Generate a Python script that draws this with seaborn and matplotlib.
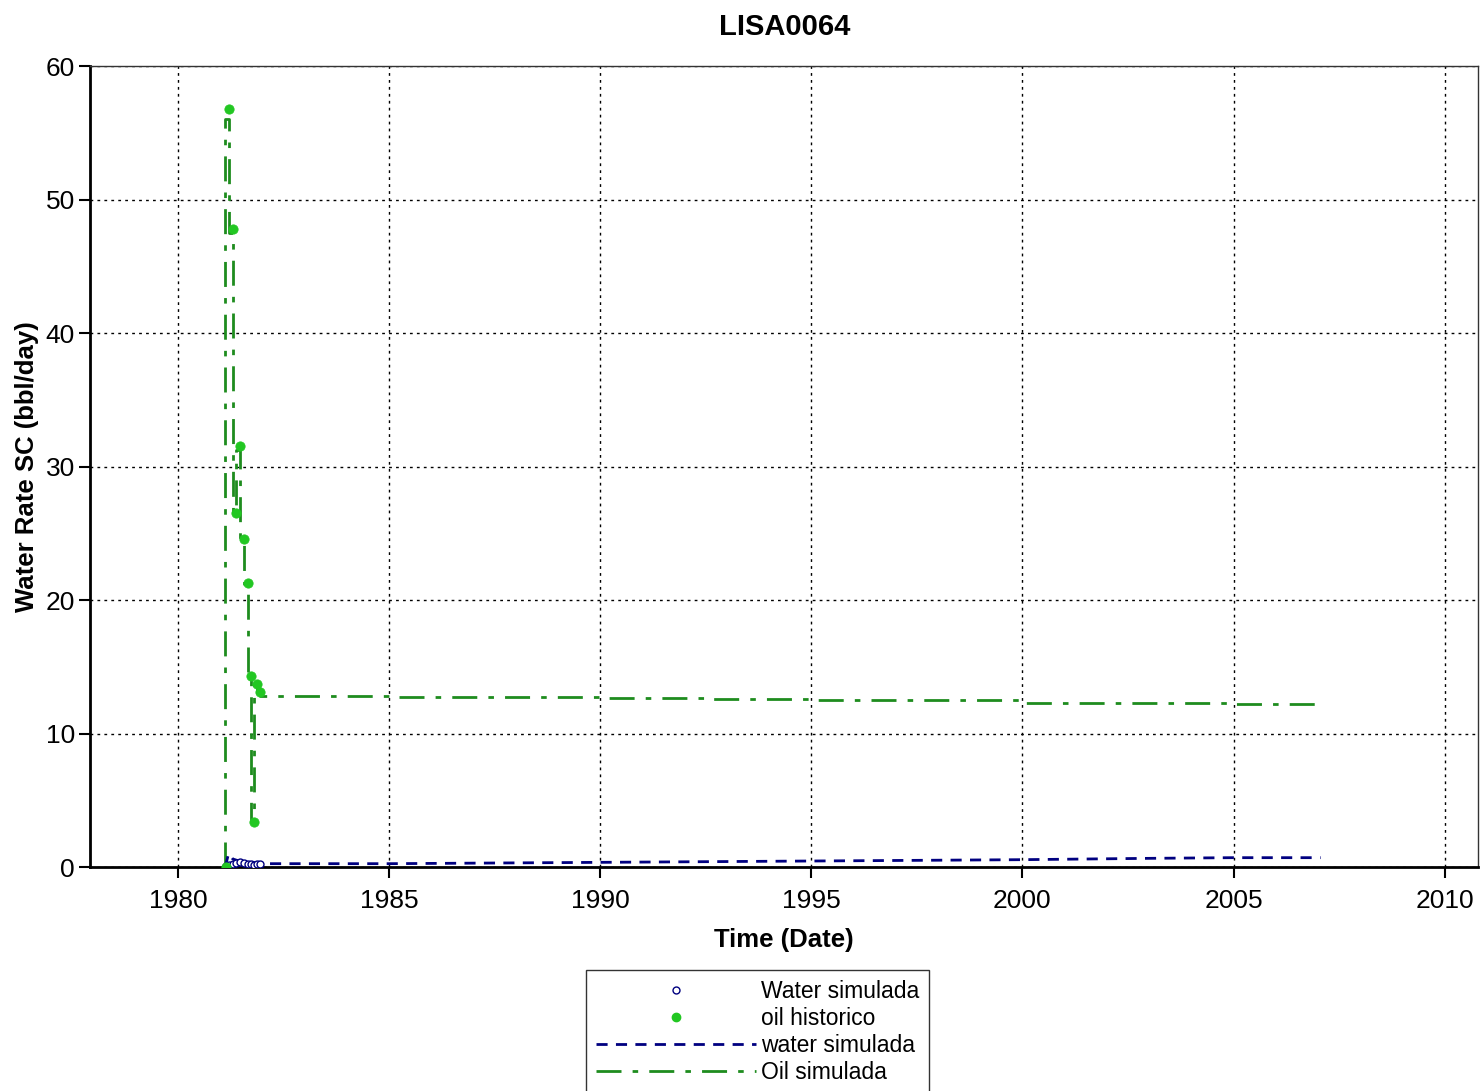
import numpy as np
import pandas as pd
import seaborn as sns
import matplotlib.pyplot as plt
from matplotlib.lines import Line2D

# oil historico (puntos)
oil_hist_t = [1981.14, 1981.21, 1981.30, 1981.37, 1981.47, 1981.56, 1981.66,
              1981.73, 1981.80, 1981.87, 1981.94]
oil_hist_q = [0.0, 56.8, 47.8, 26.5, 31.5, 24.6, 21.3, 14.3, 3.4, 13.7, 13.1]

# Oil simulada
oil_sim_t = [1981.12, 1981.14, 1981.21, 1981.30, 1981.37, 1981.47, 1981.56,
             1981.66, 1981.73, 1981.80, 1981.87, 1981.94, 1982.0, 1985.0,
             1990.0, 1992.5, 1995.0, 2000.0, 2005.0, 2007.06]
oil_sim_q = [0.0, 56.0, 56.0, 47.5, 26.5, 31.2, 24.5, 21.2, 14.2, 3.4, 13.6,
             13.0, 12.8, 12.8, 12.7, 12.65, 12.6, 12.5, 12.3, 12.2]

# Water simulada (linea)
wat_sim_t = [1981.12, 1981.20, 1981.30, 1981.50, 1982.0, 1985.0, 1990.0,
             1995.0, 2000.0, 2003.0, 2005.0, 2007.06]
wat_sim_q = [0.0, 1.0, 0.6, 0.4, 0.25, 0.25, 0.35, 0.45, 0.55, 0.65, 0.7, 0.7]

# Water simulada (puntos)
wat_pts_t = [1981.14, 1981.21, 1981.30, 1981.37, 1981.47, 1981.56, 1981.66,
             1981.73, 1981.80, 1981.87, 1981.94]
wat_pts_q = [0.05, 0.15, 0.2, 0.3, 0.35, 0.3, 0.25, 0.2, 0.15, 0.2, 0.2]

xticks = [1980, 1985, 1990, 1995, 2000, 2005, 2010]

sns.set_style("white")
plt.rcParams['font.family'] = ['Liberation Sans', 'DejaVu Sans']
plt.rcParams['text.color'] = 'black'
plt.rcParams['axes.labelcolor'] = 'black'

fig = plt.figure(figsize=(14.81, 10.91), dpi=100)
ax = fig.add_axes([0.0608, 0.2053, 0.9375, 0.7342])

green_line = "#1e8c1e"
green_pt = "#22c722"
navy = "#000080"

sns.lineplot(x=oil_sim_t, y=oil_sim_q, ax=ax, sort=False, estimator=None,
             color=green_line, lw=2, zorder=3)
ax.lines[-1].set_dashes((9, 4, 2, 4))
ax.lines[-1].set_drawstyle("steps-pre")
sns.lineplot(x=wat_sim_t, y=wat_sim_q, ax=ax, sort=False, estimator=None,
             color=navy, lw=2, zorder=3)
ax.lines[-1].set_dashes((4, 3))
sns.scatterplot(x=wat_pts_t, y=wat_pts_q, ax=ax, marker="o", s=25,
                facecolor="white", edgecolor=navy, linewidth=1, zorder=4)
sns.scatterplot(x=oil_hist_t, y=oil_hist_q, ax=ax, marker="o", s=45,
                color=green_pt, edgecolor=green_pt, zorder=5)

ax.set_xlim(1977.92, 2010.8)
ax.set_ylim(0, 60)
ax.set_xticks(xticks)
ax.set_xticklabels([str(t) for t in xticks])
ax.set_yticks(np.arange(0, 61, 10))

ax.grid(True, color="black", linestyle=(0, (2, 3)), linewidth=1)
for side in ["left", "bottom"]:
    ax.spines[side].set_linewidth(2)
    ax.spines[side].set_color("black")
for side in ["top", "right"]:
    ax.spines[side].set_linewidth(1)
    ax.spines[side].set_color("#333333")
ax.tick_params(axis="both", direction="out", length=8, width=1.5,
               labelsize=19, colors="black", left=True, bottom=True)
ax.tick_params(axis="x", pad=7.5)
ax.tick_params(axis="y", pad=3)

ax.set_title("LISA0064", fontsize=21, fontweight="bold", pad=22)
ax.set_xlabel("Time (Date)", fontsize=18.5, fontweight="bold", labelpad=11)
ax.set_ylabel("Water Rate SC (bbl/day)", fontsize=18.5, fontweight="bold",
              labelpad=4.5)

handles = [
    Line2D([], [], marker="o", linestyle="none", markerfacecolor="white",
           markeredgecolor=navy, markersize=5),
    Line2D([], [], marker="o", linestyle="none", markerfacecolor=green_pt,
           markeredgecolor=green_pt, markersize=6),
    Line2D([], [], color=navy, lw=2, dashes=(4, 3)),
    Line2D([], [], color=green_line, lw=2, dashes=(9, 4, 2, 4)),
]
labels = ["Water simulada", "oil historico", "water simulada", "Oil simulada"]
leg = fig.legend(handles, labels, loc="upper center",
                 bbox_to_anchor=(0.5115, 0.111), fontsize=16.5, frameon=True,
                 fancybox=False, edgecolor="black", handlelength=7.0,
                 handletextpad=0.2, labelspacing=0.17, borderpad=0.45,
                 borderaxespad=0)
leg.get_frame().set_linewidth(1)

fig.savefig("out.png", dpi=100)
